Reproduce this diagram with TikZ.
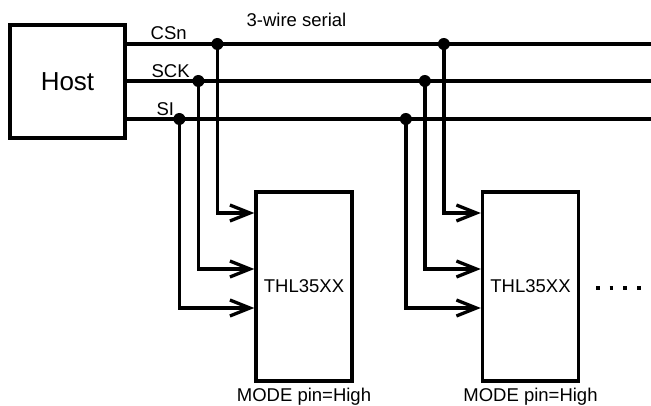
\documentclass[tikz,border=0pt]{standalone}
\usepackage{fontspec}
\setmainfont{Liberation Sans}
\usetikzlibrary{arrows.meta,calc}

\begin{document}
\begin{tikzpicture}[x=1pt,y=1pt,line width=3.3pt,
  every node/.style={font=\fontsize{18.5}{20}\selectfont,inner sep=0pt},
  chip/.style={draw,minimum width=96pt,minimum height=189pt},
  dot/.style={circle,fill,minimum size=12pt},
  feed/.style={-{Straight Barb[length=20pt,width=16pt]}}]

% the page
\useasboundingbox (0,0) rectangle (651,406);

% the host and the two sensors
\node[draw,minimum width=115pt,minimum height=113pt,font=\fontsize{26}{28}\selectfont] (host) at (67.5,324.5) {Host};
\node[chip] (c1) at (304,119.5) {THL35XX};
\node[chip] (c2) at (530.5,119.5) {THL35XX};

% the bus
\coordinate (cs) at (651,362);
\coordinate (sck) at (651,325);
\coordinate (si) at (651,287);
\draw (host.east |- cs) -- (cs);
\draw (host.east |- sck) -- (sck);
\draw (host.east |- si) -- (si);

\node[anchor=base west] (lcs) at (149,366) {CSn};
\node[anchor=base west] (lsck) at (150,328) {SCK};
\node[anchor=base west] (lsi) at (155,290) {SI};
\node[anchor=base west] (bus) at (245,379) {3-wire serial};

% taps down to the sensors
\foreach \c in {c1,c2}
  \foreach \s/\dx/\dy in {cs/37/73.5, sck/56/17.5, si/75/-21.5} {
    \coordinate (\c-\s) at ($(\c.west)+(-\dx,\dy)$);
    \node[dot] (\c-\s-j) at (\c-\s |- \s) {};
    \draw[feed] (\c-\s-j.center) -- (\c-\s) -- (\c.west |- \c-\s);
  }

\node[anchor=base] (m1) at (c1.south |- 0,4.5) {MODE pin=High};
\node[anchor=base] (m2) at (c2.south |- 0,4.5) {MODE pin=High};

% more sensors
\coordinate (more) at (596,118);
\draw[dash pattern=on 3.5pt off 10.2pt] (more) -- ++(46,0);

\end{tikzpicture}
\end{document}
